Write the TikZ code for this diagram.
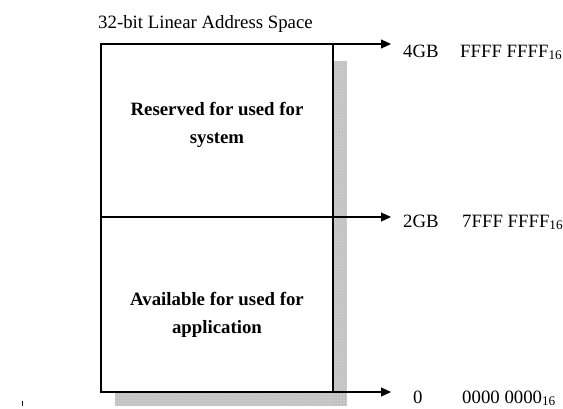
\documentclass[tikz,border=0pt]{standalone}
\usepackage{fontspec}
\setmainfont{Liberation Serif}
\usetikzlibrary{arrows.meta,patterns}
\definecolor{shadowgray}{RGB}{200,200,200}
\tikzset{
  memline/.style={line width=1.4pt, black},
  pointer/.style={line width=1.1pt, -{Triangle[length=10pt,width=9pt]}},
  shade/.style={fill=shadowgray, draw=none},
  grain/.style={pattern=dots, pattern color=gray!70},
  lbl/.style={anchor=base west, inner sep=0pt, font=\fontsize{18.8}{22}\selectfont},
  region/.style={anchor=base, inner sep=0pt, font=\fontsize{18.8}{22}\selectfont\bfseries}
}
\begin{document}
\begin{tikzpicture}[x=1pt,y=-1pt]
\useasboundingbox (0,0) rectangle (563,408);

% corner points of the address-space column
\coordinate (tl) at (101,44);
\coordinate (tr) at (333,44);
\coordinate (ml) at (101,217);
\coordinate (mr) at (333,217);
\coordinate (bl) at (101,392);
\coordinate (br) at (333,392);
% arrow tips on the right
\coordinate (t4) at (391,44);
\coordinate (t2) at (391,217);
\coordinate (t0) at (391,392);

% drop shadow
\fill[shade] (333,61) rectangle (347,406);
\fill[shade] (115,392) rectangle (347,406);
\fill[grain] (333,61) rectangle (347,406);
\fill[grain] (115,392) rectangle (347,406);

% column body
\fill[white] (tl) rectangle (br);
\draw[memline] (tl) rectangle (br);

% boundary markers
\draw[pointer] (tr) -- (t4);
\draw[memline] (ml) -- (mr);
\draw[pointer] (mr) -- (t2);
\draw[pointer] (br) -- (t0);

% small tick at lower left
\draw[line width=1pt] (22,401) -- (22,406);

% title
\node[lbl] (title) at (98,28) {32-bit Linear Address Space};

% region captions
\node[region] (res1) at (217,115) {Reserved for used for};
\node[region] (res2) at (217,143) {system};
\node[region] (av1) at (217,305) {Available for used for};
\node[region] (av2) at (217,333) {application};

% address labels
\node[lbl] (g4) at (403,57) {4GB};
\node[lbl] (h4) at (460,57) {FFFF FFFF\textsubscript{16}};
\node[lbl] (g2) at (403,227) {2GB};
\node[lbl] (h2) at (462,227) {7FFF FFFF\textsubscript{16}};
\node[lbl] (g0) at (413,403) {0};
\node[lbl] (h0) at (462,403) {0000 0000\textsubscript{16}};
\end{tikzpicture}
\end{document}
